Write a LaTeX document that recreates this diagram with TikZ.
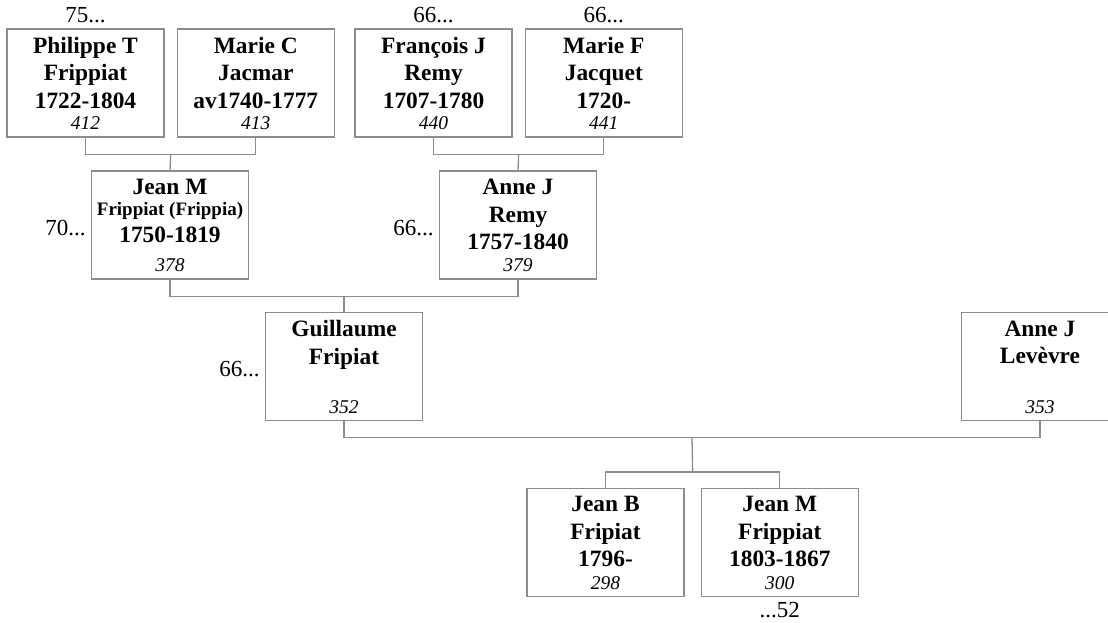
\documentclass[tikz,border=0pt]{standalone}
\usepackage{fontspec}
\setmainfont{Liberation Serif}
\usetikzlibrary{calc,positioning}
\definecolor{Rule}{HTML}{8C8C8C}
\tikzset{
  person/.style={
    draw=Rule, line width=1.3pt, fill=white,
    minimum width=157pt, minimum height=108pt, inner sep=0pt
  },
  who/.style={align=center, inner sep=0pt, font=\fontsize{23.4}{27.5}\selectfont\bfseries},
  num/.style={inner sep=0pt, font=\fontsize{19.5}{22}\selectfont\itshape},
  more/.style={inner sep=0pt, font=\fontsize{23}{26}\selectfont},
  link/.style={draw=Rule, line width=1.3pt}
}

\begin{document}
\begin{tikzpicture}[x=1pt,y=-1pt]
  \useasboundingbox (0,0) rectangle (1108,622);
  % great-grandparents
  \node[person] (philippe) at (85.5,83) {};
  \node[person,right=12pt of philippe] (marieC) {};
  \node[person] (francois) at (433.5,83) {};
  \node[person,right=12pt of francois] (marieF) {};
  % grandparents
  \node[person] (jeanM) at (170,225) {};
  \node[person] (anneR) at (518,225) {};
  % parents
  \node[person] (guillaume) at (344,366.5) {};
  \node[person] (levevre) at (1040,366.5) {};
  % children
  \node[person] (jeanB) at (605.5,542.5) {};
  \node[person,right=16pt of jeanB] (jeanM2) {};

  \node[who,below=8.5pt of philippe.north] (philippeName) {Philippe T\\Frippiat\\1722-1804};
  \node[num,above=7.5pt of philippe.south] (philippeNum) {412};
  \node[who,below=8.5pt of marieC.north] (marieCName) {Marie C\\Jacmar\\av1740-1777};
  \node[num,above=7.5pt of marieC.south] (marieCNum) {413};
  \node[who,below=8.5pt of francois.north] (francoisName) {François J\\Remy\\1707-1780};
  \node[num,above=7.5pt of francois.south] (francoisNum) {440};
  \node[who,below=8.5pt of marieF.north] (marieFName) {Marie F\\Jacquet\\1720-};
  \node[num,above=7.5pt of marieF.south] (marieFNum) {441};
  \node[who,below=9pt of jeanM.north] (jeanMName)
    {Jean M\\[-7pt]{\fontsize{19}{20}\selectfont Frippiat (Frippia)}\\1750-1819};
  \node[num,above=7.5pt of jeanM.south] (jeanMNum) {378};
  \node[who,below=8.5pt of anneR.north] (anneRName) {Anne J\\Remy\\1757-1840};
  \node[num,above=7.5pt of anneR.south] (anneRNum) {379};
  \node[who,below=8.5pt of guillaume.north] (guillaumeName) {Guillaume\\Fripiat};
  \node[num,above=7.5pt of guillaume.south] (guillaumeNum) {352};
  \node[who,below=8.5pt of levevre.north] (levevreName) {Anne J\\Levèvre};
  \node[num,above=7.5pt of levevre.south] (levevreNum) {353};
  \node[who,below=8.5pt of jeanB.north] (jeanBName) {Jean B\\Fripiat\\1796-};
  \node[num,above=7.5pt of jeanB.south] (jeanBNum) {298};
  \node[who,below=8.5pt of jeanM2.north] (jeanM2Name) {Jean M\\Frippiat\\1803-1867};
  \node[num,above=7.5pt of jeanM2.south] (jeanM2Num) {300};

  % more generations
  \node[more,above=5pt of philippe] (philippeMore) {75...};
  \node[more,above=5pt of francois] (francoisMore) {66...};
  \node[more,above=5pt of marieF] (marieFMore) {66...};
  \node[more,left=5pt of jeanM,yshift=-3pt] (jeanMMore) {70...};
  \node[more,left=5pt of anneR,yshift=-3pt] (anneRMore) {66...};
  \node[more,left=5pt of guillaume,yshift=-3pt] (guillaumeMore) {66...};
  \node[more,below=5pt of jeanM2] (jeanM2More) {...52};

  \coordinate (c1) at ($(philippe.south)!.5!(marieC.south)+(0,17)$);
  \coordinate (c2) at ($(francois.south)!.5!(marieF.south)+(0,17)$);
  \coordinate (c3) at ($(jeanM.south)!.5!(anneR.south)+(0,17)$);
  \coordinate (c4) at ($(guillaume.south)!.5!(levevre.south)+(0,16)$);
  \coordinate (c5) at ($(jeanB.north)!.5!(jeanM2.north)+(0,-16)$);
  \draw[link] (philippe.south) |- (c1) -| (marieC.south);
  \draw[link] (c1) -- (jeanM.north);
  \draw[link] (francois.south) |- (c2) -| (marieF.south);
  \draw[link] (c2) -- (anneR.north);
  \draw[link] (jeanM.south) |- (c3) -| (anneR.south);
  \draw[link] (c3) -- (guillaume.north);
  \draw[link] (guillaume.south) |- (c4) -| (levevre.south);
  \draw[link] (jeanB.north) |- (c5) -| (jeanM2.north);
  \draw[link] (c4) -- (c5);
\end{tikzpicture}
\end{document}
